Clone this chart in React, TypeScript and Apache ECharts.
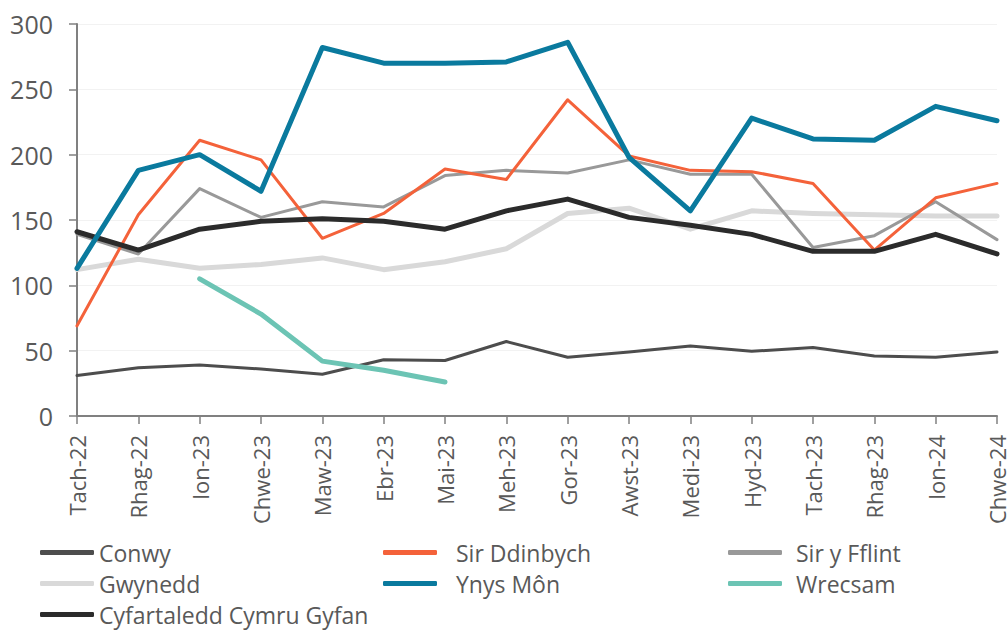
import React, { useEffect, useRef } from "react";
import * as echarts from "echarts";

const categories = ["Tach-22","Rhag-22","Ion-23","Chwe-23","Maw-23","Ebr-23","Mai-23","Meh-23","Gor-23","Awst-23","Medi-23","Hyd-23","Tach-23","Rhag-23","Ion-24","Chwe-24"];

const conwy = [31, 37, 39, 36, 32, 43, 42.5, 57, 45, 49, 53.5, 49.5, 52.5, 46, 45, 49];
const sirDdinbych = [69, 154, 211, 196, 136, 155, 189, 181, 242, 199, 188, 187, 178, 127, 167, 178];
const sirYFflint = [139, 124, 174, 152, 164, 160, 184, 188, 186, 196, 185, 185, 129, 138, 164, 135];
const gwynedd = [112, 120, 113, 116, 121, 112, 118, 128, 155, 159, 143, 157, 155, 154, 153, 153];
const ynysMon = [113, 188, 200, 172, 282, 270, 270, 271, 286, 198, 157, 228, 212, 211, 237, 226];
const wrecsam = [null, null, 105, 78, 42, 35, 26, null, null, null, null, null, null, null, null, null];
const cyfartaledd = [141, 127, 143, 149, 151, 149, 143, 157, 166, 152, 146, 139, 126, 126, 139, 124];

const yTicks = { min: 0, max: 300, interval: 50 };

const font = "'Open Sans', 'Noto Sans', sans-serif";

export default function App() {
  const ref = useRef<HTMLDivElement>(null);
  useEffect(() => {
    if (!ref.current) return;
    const chart = echarts.init(ref.current, undefined, { renderer: "svg" });
    const mk = (name: string, data: any[], color: string, width: number, z = 2) => ({
      name,
      type: "line",
      data,
      symbol: "none",
      showSymbol: false,
      connectNulls: false,
      z,
      lineStyle: { color, width, cap: "round", join: "round" },
      itemStyle: { color },
    });
    const legendBase = {
      orient: "vertical",
      icon: "roundRect",
      itemWidth: 54,
      itemHeight: 5,
      itemGap: 8,
      height: 140,
      padding: 0,
      selectedMode: false,
    };
    const legendText = { fontSize: 23, lineHeight: 23, color: "#595959", fontFamily: font };
    chart.setOption({
      animation: false,
      backgroundColor: "#ffffff",
      grid: { left: 77, right: 10, top: 24, bottom: 216, containLabel: false },
      xAxis: {
        type: "category",
        data: categories,
        boundaryGap: false,
        axisLine: { lineStyle: { color: "#808080", width: 2 } },
        axisTick: { show: true, length: 8, lineStyle: { color: "#808080", width: 1.5 }, alignWithLabel: true },
        axisLabel: {
          rotate: 90,
          interval: 0,
          margin: 19,
          fontSize: 22,
          color: "#595959",
          fontFamily: font,
        },
        splitLine: { show: false },
      },
      yAxis: {
        type: "value",
        min: yTicks.min,
        max: yTicks.max,
        interval: yTicks.interval,
        axisLine: { show: true, lineStyle: { color: "#808080", width: 2 } },
        axisTick: { show: true, length: 8, lineStyle: { color: "#808080", width: 1.5 } },
        axisLabel: {
          margin: 24,
          fontSize: 25,
          color: "#595959",
          fontFamily: font,
        },
        splitLine: { show: true, lineStyle: { color: "#f2f2f2", width: 1 } },
      },
      legend: [
        {
          ...legendBase,
          left: 40,
          top: 541,
          data: ["Conwy", "Gwynedd", "Cyfartaledd Cymru Gyfan"],
          textStyle: { ...legendText },
        },
        {
          ...legendBase,
          left: 383,
          top: 541,
          data: ["Sir Ddinbych", "Ynys Môn"],
          textStyle: { ...legendText, padding: [0, 0, 0, 14] },
        },
        {
          ...legendBase,
          left: 728,
          top: 541,
          data: ["Sir y Fflint", "Wrecsam"],
          textStyle: { ...legendText, padding: [0, 0, 0, 9] },
        },
      ],
      series: [
        mk("Gwynedd", gwynedd, "#d9d9d9", 5, 1),
        mk("Conwy", conwy, "#4d4d4d", 3, 2),
        mk("Sir y Fflint", sirYFflint, "#999999", 3, 2),
        mk("Sir Ddinbych", sirDdinbych, "#f4623a", 3, 3),
        mk("Cyfartaledd Cymru Gyfan", cyfartaledd, "#2b2b2b", 5, 4),
        mk("Wrecsam", wrecsam, "#6cc4b4", 5, 4),
        mk("Ynys Môn", ynysMon, "#0a7a9e", 5, 5),
      ],
    });
    return () => chart.dispose();
  }, []);
  return <div ref={ref} style={{ width: 1008, height: 632, position: "absolute", left: 0, top: 0 }} />;
}
